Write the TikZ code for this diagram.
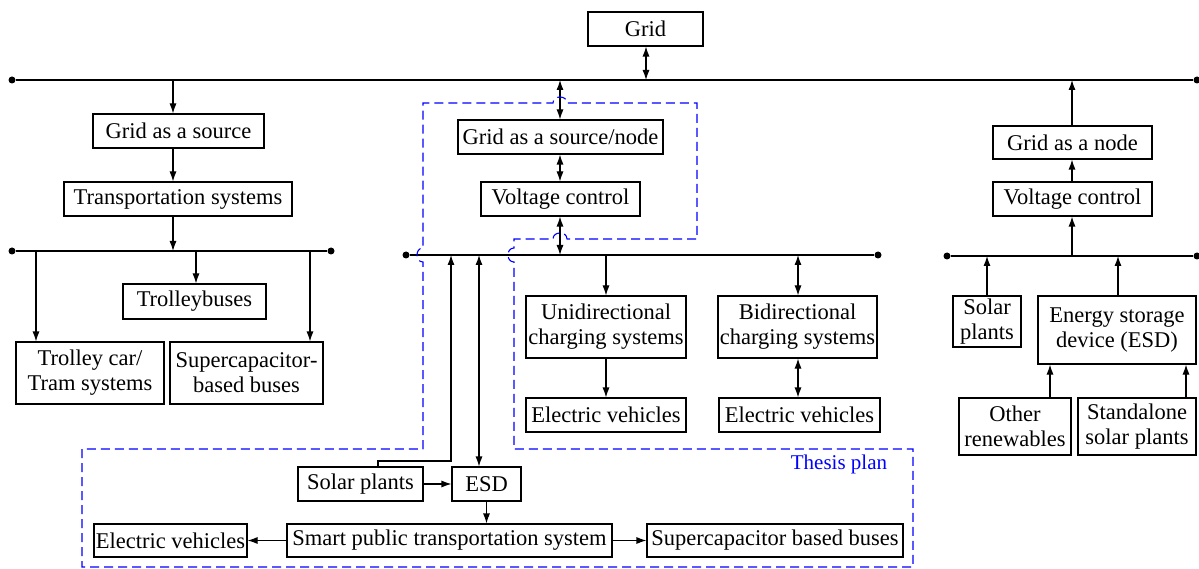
\documentclass[tikz,border=0pt]{standalone}
\usepackage{fontspec}
\setmainfont{Liberation Serif}
\usetikzlibrary{arrows.meta}
\newcommand\mybox[6]{\node[bx,minimum width={(#3)-(#2)},minimum height={(#5)-(#4)}] (#1) at ({((#2)+(#3))/2},{((#4)+(#5))/2}) {#6};}
\begin{document}
\begin{tikzpicture}[x=1pt,y=-1pt,
  bx/.style={draw, line width=1.1pt, inner sep=0pt, align=center, font=\fontsize{22.5}{25}\selectfont},
  ln/.style={line width=1.1pt},
  arr/.style={ln, -{Latex[length=10pt,width=7pt]}},
  darr/.style={ln, {Latex[length=10pt,width=7pt]}-{Latex[length=10pt,width=7pt]}},
  dot/.style={circle, fill, inner sep=0pt, minimum size=7pt},
  plan/.style={draw=blue, line width=1.1pt, dash pattern=on 9pt off 5pt}]
\useasboundingbox (0,0) rectangle (1199,569);

% boxes
\mybox{grid}{588}{703}{12}{46}{Grid}
\mybox{gsrc}{93}{264}{114}{148}{Grid as a source}
\mybox{trans}{64}{292}{182}{216}{Transportation systems}
\mybox{trolb}{123}{266}{284}{319}{Trolleybuses}
\mybox{tram}{16}{164}{342}{404}{Trolley car/\\Tram systems}
\mybox{supc}{170}{323}{342}{404}{Supercapacitor-\\based buses}
\mybox{gsn}{458}{663}{120}{154}{Grid as a source/node}
\mybox{vca}{481}{640}{182}{216}{Voltage control}
\mybox{uni}{526}{686}{296}{358}{Unidirectional\\charging systems}
\mybox{bi}{718}{877}{296}{358}{Bidirectional\\charging systems}
\mybox{eva}{526}{686}{398}{432}{Electric vehicles}
\mybox{evb}{719}{880}{398}{432}{Electric vehicles}
\mybox{gnode}{993}{1152}{126}{159}{Grid as a node}
\mybox{vcb}{993}{1152}{182}{216}{Voltage control}
\mybox{sola}{953}{1021}{296}{347}{Solar\\plants}
\mybox{esda}{1038}{1196}{296}{364}{Energy storage\\device (ESD)}
\mybox{oth}{959}{1071}{398}{455}{Other\\renewables}
\mybox{stand}{1078}{1196}{398}{455}{Standalone\\solar plants}
\mybox{solb}{298}{423}{467}{501}{Solar plants}
\mybox{esdb}{452}{521}{467}{501}{ESD}
\mybox{smart}{287}{612}{524}{557}{Smart public transportation system}
\mybox{evc}{94}{247}{524}{557}{Electric vehicles}
\mybox{supb}{647}{903}{524}{557}{Supercapacitor based buses}

% buses
\node[dot] (b1L) at (12,80) {};
\node[dot] (b1R) at (1197,80) {};
\draw[ln] (b1L) -- (b1R);
\node[dot] (b2L) at (12,251) {};
\node[dot] (b2R) at (331,251) {};
\draw[ln] (b2L) -- (b2R);
\node[dot] (b3L) at (406,255) {};
\node[dot] (b3R) at (878,255) {};
\draw[ln] (b3L) -- (b3R);
\node[dot] (b4L) at (947,256) {};
\node[dot] (b4R) at (1197,256) {};
\draw[ln] (b4L) -- (b4R);

% grid
\coordinate (cg) at (646,80);
\draw[darr] (grid.south -| cg) -- (cg);

% left branch
\coordinate (c1) at (173,80);
\coordinate (c2) at (173,251);
\draw[arr] (c1) -- (c1 |- gsrc.north);
\draw[arr] (c1 |- gsrc.south) -- (c1 |- trans.north);
\draw[arr] (c1 |- trans.south) -- (c2);
\coordinate (c3) at (196,251);
\draw[arr] (c3) -- (c3 |- trolb.north);
\coordinate (c4) at (36,251);
\draw[arr] (c4) -- (c4 |- tram.north);
\coordinate (c5) at (310,251);
\draw[arr] (c5) -- (c5 |- supc.north);

% middle branch
\coordinate (m1) at (560,80);
\coordinate (m2) at (560,255);
\draw[darr] (m1) -- (m1 |- gsn.north);
\draw[darr] (m1 |- gsn.south) -- (m1 |- vca.north);
\draw[darr] (m1 |- vca.south) -- (m2);
\coordinate (m3) at (606,255);
\draw[arr] (m3) -- (m3 |- uni.north);
\draw[arr] (m3 |- uni.south) -- (m3 |- eva.north);
\coordinate (m4) at (798,255);
\draw[darr] (m4) -- (m4 |- bi.north);
\draw[darr] (m4 |- bi.south) -- (m4 |- evb.north);

% thesis plan part
\coordinate (s1) at (451,255);
\coordinate (s2) at (378,461);
\draw[arr] (s2 |- solb.north) -- (s2) -| (s1);
\coordinate (e1) at (479,255);
\draw[darr] (e1) -- (e1 |- esdb.north);
\draw[arr] (solb) -- (esdb);
\draw[arr] (esdb.south) -- (esdb.south |- smart.north);
\draw[arr] (smart) -- (evc);
\draw[arr] (smart) -- (supb);

% right branch
\coordinate (r1) at (1072,80);
\coordinate (r2) at (1072,256);
\draw[arr] (r1 |- gnode.north) -- (r1);
\draw[arr] (r1 |- vcb.north) -- (r1 |- gnode.south);
\draw[arr] (r2) -- (r2 |- vcb.south);
\coordinate (r3) at (987,256);
\draw[arr] (r3 |- sola.north) -- (r3);
\coordinate (r4) at (1118,256);
\draw[arr] (r4 |- esda.north) -- (r4);
\coordinate (r5) at (1050,398);
\draw[arr] (r5 |- oth.north) -- (r5 |- esda.south);
\coordinate (r6) at (1186,398);
\draw[arr] (r6 |- stand.north) -- (r6 |- esda.south);

% dashed outline
\draw[plan] (423,449) -- (423,262) .. controls (415,262) and (415,248) .. (423,248)
  -- (423,103) -- (553,103) .. controls (553,95) and (567,95) .. (567,103)
  -- (697,103) -- (697,239) -- (567,239) .. controls (567,231) and (553,231) .. (553,239)
  -- (514,239) -- (514,248) .. controls (506,248) and (506,262) .. (514,262)
  -- (514,449) -- (913,449) -- (913,567) -- (82,567) -- (82,449) -- cycle;
\node[text=blue, font=\fontsize{21}{24}\selectfont] (tp) at (839,464) {Thesis plan};
\end{tikzpicture}
\end{document}
